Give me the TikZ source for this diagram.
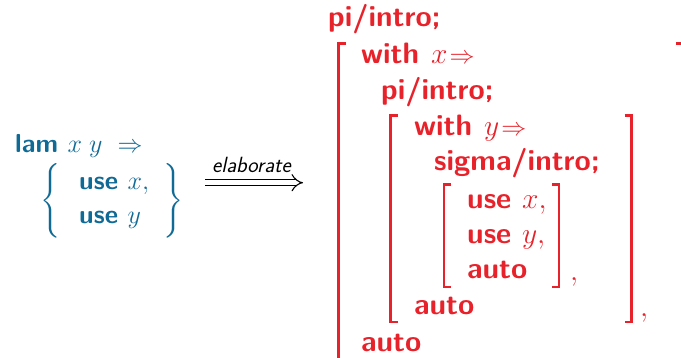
\RequirePackage{fix-cm}
\documentclass[tikz,border=0pt]{standalone}
\usepackage{exscale}
\usetikzlibrary{arrows.meta}
\definecolor{lblue}{RGB}{16,106,150}
\definecolor{lred}{RGB}{232,34,42}
\newcommand{\smallimp}{{\fontsize{25}{30}\selectfont$\Rightarrow$}}
\tikzset{
  rtext/.style={anchor=base west, inner sep=0pt, text=lred, font=\fontsize{29.5}{34}\selectfont\sffamily\bfseries},
  btext/.style={anchor=base west, inner sep=0pt, text=lblue, font=\fontsize{26}{30}\selectfont\sffamily\bfseries},
  bbrace/.style={anchor=base, inner sep=0pt, text=lblue, font=\fontsize{26}{30}\selectfont},
  brk/.style={draw=lred, line width=2.6pt, line cap=butt, line join=miter},
  elab/.style={draw=black, double, double distance=5pt, line width=1.1pt, -{Implies}}
}
\begin{document}
\begin{tikzpicture}[x=1pt,y=-1pt]
\useasboundingbox (0,0) rectangle (681,357);
% left (blue)
\node[btext] (b1) at (15,152) {lam $x\;y$\hspace{15pt}\smallimp};
\node[btext] (b2) at (79,189) {use $x,$};
\node[btext] (b3) at (79,223) {use $y$};
\node[bbrace] (lb) at (51.5,207.5) {\smash{$\left\{\vrule height 29pt depth 29pt width 0pt\right.$}};
\node[bbrace] (rb) at (172.5,207.5) {\smash{$\left.\vrule height 29pt depth 29pt width 0pt\right\}$}};
% arrow
\coordinate (as) at (205,182.7);
\coordinate (ae) at (303,182.7);
\draw[elab] (as) -- (ae);
\node[anchor=base west, inner sep=0pt, font=\fontsize{22}{26}\selectfont\sffamily\itshape] (lab) at (212,172.3) {elaborate};
% right (red)
\node[rtext] (r1) at (328,26) {pi/intro;};
\node[rtext] (r2) at (361,63) {with\hspace{12pt}$x$\hspace{2pt}\smallimp};
\node[rtext] (r3) at (381,99) {pi/intro;};
\node[rtext] (r4) at (414,135) {with\hspace{12pt}$y$\hspace{2pt}\smallimp};
\node[rtext] (r5) at (434,170.7) {sigma/intro;};
\node[rtext] (r6) at (467,208.7) {use $x,$};
\node[rtext] (r7) at (467,243.7) {use $y,$};
\node[rtext] (r8) at (467,278.7) {auto};
\node[rtext] (r9) at (414,314.7) {auto};
\node[rtext] (r10) at (361,351) {auto};
\node[rtext] (c1) at (570,280) {$,$};
\node[rtext] (c2) at (640,316) {$,$};
% brackets
\draw[brk] (345.5,43.5) -| (338.5,370);
\draw[brk] (676,43.5) -| (683,370);
\draw[brk] (397.5,115.5) -- (390.5,115.5) -- (390.5,322) -- (397.5,322);
\draw[brk] (624.5,115.5) -- (631.5,115.5) -- (631.5,322) -- (624.5,322);
\draw[brk] (451,184.5) -- (444,184.5) -- (444,287) -- (451,287);
\draw[brk] (552,184.5) -- (559,184.5) -- (559,287) -- (552,287);
\end{tikzpicture}
\end{document}
